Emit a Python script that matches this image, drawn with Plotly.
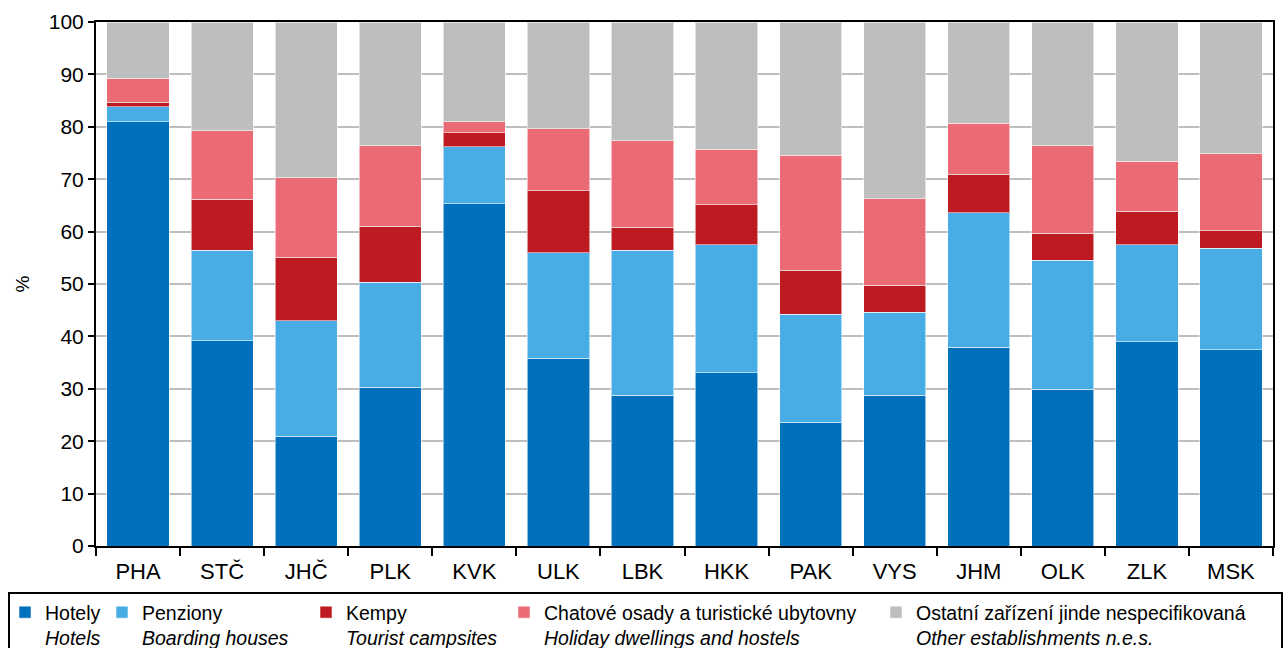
import plotly.graph_objects as go

regions = ["PHA", "STČ", "JHČ", "PLK", "KVK", "ULK", "LBK", "HKK", "PAK", "VYS", "JHM", "OLK", "ZLK", "MSK"]

hotely = [81.0, 39.2, 20.9, 30.3, 65.3, 35.8, 28.8, 33.1, 23.6, 28.8, 37.9, 29.9, 39.0, 37.5]
penziony = [2.8, 17.2, 22.1, 20.0, 10.9, 20.2, 27.6, 24.4, 20.6, 15.8, 25.7, 24.6, 18.5, 19.3]
kempy = [0.9, 9.8, 12.1, 10.7, 2.7, 11.8, 4.4, 7.6, 8.4, 5.2, 7.3, 5.2, 6.4, 3.4]
chatove = [4.6, 13.0, 15.2, 15.4, 2.1, 11.8, 16.5, 10.6, 22.0, 16.5, 9.8, 16.7, 9.5, 14.7]
ostatni = [10.7, 20.8, 29.7, 23.6, 19.0, 20.4, 22.7, 24.3, 25.4, 33.7, 19.3, 23.6, 26.6, 25.1]

series_names = [
    "Hotely<br><i>Hotels</i>",
    "Penziony<br><i>Boarding houses</i>",
    "Kempy<br><i>Tourist campsites</i>",
    "Chatové osady a turistické ubytovny<br><i>Holiday dwellings and hostels</i>",
    "Ostatní zařízení jinde nespecifikovaná<br><i>Other establishments n.e.s.</i>",
]
series_values = [hotely, penziony, kempy, chatove, ostatni]
colors = ["#0070BC", "#48ADE5", "#BD1A21", "#EA6B73", "#BEBEBE"]

PLOT_L, PLOT_R, PLOT_T, PLOT_B = 96, 1273, 22, 546
PW = PLOT_R - PLOT_L
PH = PLOT_B - PLOT_T

def px_x(p):
    return (p - PLOT_L) / PW

def px_y(p):
    return (PLOT_B - p) / PH

text_starts = [46, 143, 347, 545, 917]
legend_keys = ["legend", "legend2", "legend3", "legend4", "legend5"]

fig = go.Figure()
for i, (name, vals, col) in enumerate(zip(series_names, series_values, colors)):
    fig.add_trace(go.Bar(
        x=regions, y=vals, name=name,
        marker=dict(color=col, line=dict(color="rgba(255,255,255,0.55)", width=1)),
        legend=legend_keys[i],
        showlegend=True,
    ))

font = "Liberation Sans, Arial, sans-serif"
layout_legends = {}
for i, key in enumerate(legend_keys):
    layout_legends[key] = dict(
        x=px_x(text_starts[i] - 41), xanchor="left",
        y=px_y(593), yanchor="top",
        orientation="h",
        font=dict(family=font, size=19.5, color="black"),
        bgcolor="rgba(0,0,0,0)", borderwidth=0,
        valign="top", itemclick=False, itemdoubleclick=False,
        traceorder="normal",
    )

fig.update_layout(
    barmode="stack",
    bargap=0.26,
    width=1284, height=648,
    margin=dict(l=PLOT_L, r=1284 - PLOT_R, t=PLOT_T, b=648 - PLOT_B, pad=0,
                autoexpand=False),
    paper_bgcolor="white", plot_bgcolor="white",
    font=dict(family=font, size=20, color="black"),
    **layout_legends,
)

fig.update_yaxes(
    range=[0, 100], dtick=10, tick0=0,
    showgrid=True, gridcolor="#BEBEBE", gridwidth=1.5,
    showline=True, linecolor="black", linewidth=2, mirror=True,
    ticks="outside", ticklen=6, tickwidth=2, tickcolor="black",
    tickfont=dict(family=font, size=21, color="black"),
    title=dict(text="%", font=dict(family=font, size=19, color="black"), standoff=14),
    zeroline=False, automargin=False,
)
fig.update_xaxes(
    showline=True, linecolor="black", linewidth=2, mirror=True,
    ticks="outside", tickson="boundaries", ticklen=8, tickwidth=2, tickcolor="black",
    tickfont=dict(family=font, size=22, color="black"),
    ticklabelstandoff=5,
    showgrid=False, automargin=False,
)

fig.add_shape(
    type="rect", xref="paper", yref="paper",
    x0=px_x(9), x1=px_x(1282), y0=px_y(593), y1=px_y(670),
    line=dict(color="black", width=2), fillcolor="rgba(0,0,0,0)", layer="above",
)

fig.write_html(
    "out.html",
    config={"displayModeBar": False},
    post_script="document.body.style.margin='0';document.body.style.overflow='hidden';",
)
